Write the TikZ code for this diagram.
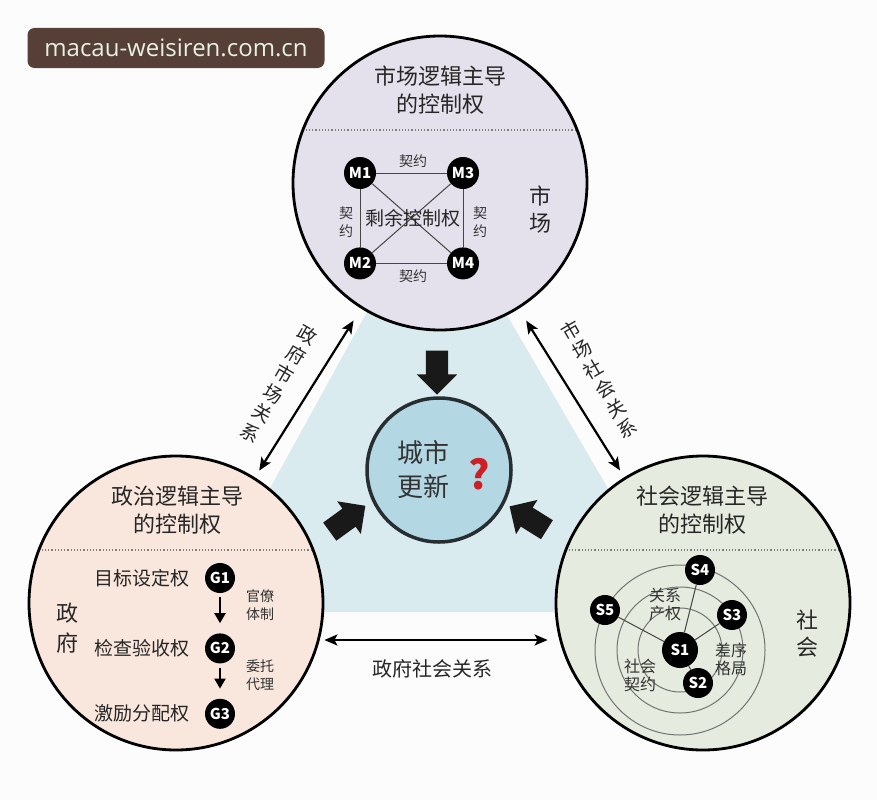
\documentclass[tikz,border=0pt]{standalone}
\usepackage{fontspec}
\setmainfont{Noto Sans CJK SC}
\newfontfamily\wmfont{Open Sans}
\usetikzlibrary{shapes.geometric, shapes.arrows, arrows.meta, positioning}
\definecolor{pagebg}{RGB}{252, 252, 252}
\definecolor{zonefill}{RGB}{217, 235, 239}
\definecolor{mktfill}{RGB}{229, 225, 236}
\definecolor{govfill}{RGB}{249, 230, 221}
\definecolor{socfill}{RGB}{229, 236, 223}
\definecolor{corefill}{RGB}{180, 215, 228}
\definecolor{coreline}{RGB}{38, 46, 50}
\definecolor{wmfill}{RGB}{86, 63, 55}
\definecolor{wmtext}{RGB}{232, 240, 226}
\definecolor{qred}{RGB}{205, 32, 38}
\definecolor{inkgray}{RGB}{70, 70, 70}
\newcommand\pxfont[2]{\fontsize{#1pt}{#2pt}\selectfont}
\tikzset{
    bigcircle/.style={circle, draw=black, line width=2.8pt, minimum size=294pt, inner sep=0pt, path picture={\draw[black!50, dotted, line width=1.2pt] ([yshift=53pt]path picture bounding box.west) -- ([yshift=53pt]path picture bounding box.east);}},
    corecircle/.style={circle, draw=coreline, fill=corefill, line width=3.5pt, minimum size=144pt, inner sep=0pt},
    headtext/.style={text=black!85, align=center, font=\pxfont{22}{28}},
    sidetext/.style={text=black!85, align=center, font=\pxfont{22}{27}},
    pointtext/.style={text=black!85, font=\pxfont{19}{22}},
    smalltext/.style={text=black!80, align=center, font=\pxfont{14}{18}},
    actor/.style={circle, fill=black, text=white, inner sep=0pt, minimum size=32pt, font=\bfseries\pxfont{15}{15}},
    link/.style={draw=inkgray, line width=1pt},
    ringline/.style={draw=black!55, line width=1pt},
    stepdown/.style={-{Triangle[length=10pt, width=11pt]}, line width=2pt, black, shorten <=4pt, shorten >=10pt},
    relation/.style={{Stealth[length=13pt, width=11pt, inset=3pt]}-{Stealth[length=13pt, width=11pt, inset=3pt]}, line width=2.2pt, black},
    rellabel/.style={text=black!85, align=center, font=\pxfont{19}{22.6}},
    blockarrow/.style={single arrow, fill=black!90, draw=none, inner xsep=0pt, inner ysep=11pt, minimum width=40pt, minimum height=44pt, single arrow head extend=9pt, single arrow head indent=0pt}
}
\begin{document}
\begin{tikzpicture}[x=1pt, y=-1pt]
\useasboundingbox (0,0) rectangle (877,800);
\fill[pagebg] (0,0) rectangle (877,800);
% shaded zone behind the three circles
\fill[zonefill] (401,250) -- (469,250) -- (680,612) -- (202,612) -- cycle;

\node[bigcircle, fill=mktfill] (mkt) at (440,183) {};
\node[bigcircle, fill=govfill] (gov) at (176,603) {};
\node[bigcircle, fill=socfill] (soc) at (703,603) {};
\node[corecircle] (core) at (439,470) {};

\node[fill=wmfill, rounded corners=7pt, minimum width=297pt, minimum height=40pt, text=wmtext, font=\wmfont\pxfont{24}{24}] (watermark) at (176,48) {macau-weisiren.com.cn};

% relations between the three logics
\draw[relation, shorten <=14pt, shorten >=8pt] (mkt) -- (gov);
\draw[relation, shorten <=14pt, shorten >=8pt] (mkt) -- (soc);
\draw[relation, shorten >=7pt] ([yshift=-37pt]gov.east) -- ([yshift=-37pt]soc.west);
\node[rellabel, rotate=-30] (gmlabel) at (279,384) {政\\府\\市\\场\\关\\系};
\node[rellabel, rotate=30] (mslabel) at (599,379) {市\\场\\社\\会\\关\\系};
\node[rellabel, font=\pxfont{20}{20}] (gslabel) at (432,669) {政府社会关系};

\node[blockarrow, rotate=-90] (frommkt) at (437,367) {};
\node[blockarrow, rotate=36] (fromgov) at (343,522) {};
\node[blockarrow, rotate=148] (fromsoc) at (533,521) {};

\node[text=black!80, align=center, font=\pxfont{26}{34}] (coretext) at (423,470) {城市\\更新};
\node[text=qred, font=\bfseries\pxfont{40}{40}] (qmark) at (479,474) {?};

% market
\node[headtext] (mkthead) at (440,90) {市场逻辑主导\\的控制权};
\node[actor] (m1) at (360,173) {M1};
\node[actor] (m3) at (463,173) {M3};
\node[actor, below=58pt of m1] (m2) {M2};
\node[actor, below=58pt of m3] (m4) {M4};
\draw[link] (m1) -- (m3) -- (m4) -- (m2) -- (m1);
\draw[link] (m1) -- (m4) (m2) -- (m3);
\node[smalltext] (ktop) at (413,161) {契约};
\node[smalltext] (kbottom) at (413,276) {契约};
\node[smalltext] (kleft) at (346,222) {契\\约};
\node[smalltext] (kright) at (480,222) {契\\约};
\node[pointtext] (residual) at (413,218) {剩余控制权};
\node[sidetext] (mktside) at (540,210) {市\\场};

% government
\node[headtext] (govhead) at (177,510) {政治逻辑主导\\的控制权};
\node[actor, minimum size=30pt] (g1) at (220,578) {G1};
\node[actor, minimum size=30pt, below=40pt of g1] (g2) {G2};
\node[actor, minimum size=30pt, below=35pt of g2] (g3) {G3};
\draw[stepdown] (g1) -- (g2);
\draw[stepdown] (g2) -- (g3);
\node[pointtext, left=12pt of g1] (goalset) {目标设定权};
\node[pointtext, left=12pt of g2] (inspect) {检查验收权};
\node[pointtext, left=12pt of g3] (reward) {激励分配权};
\node[smalltext] (bureau) at (260,605) {官僚\\体制};
\node[smalltext] (agency) at (260,675) {委托\\代理};
\node[sidetext, font=\pxfont{22}{30}] (govside) at (67,628) {政\\府};

% society
\node[headtext] (sochead) at (702,510) {社会逻辑主导\\的控制权};
\coordinate (hub) at (680,650);
\draw[ringline] (hub) circle[radius=42pt] (hub) circle[radius=63pt] (hub) circle[radius=85pt];
\node[actor, minimum size=36pt] (s1) at (hub) {S1};
\node[actor, minimum size=30pt] (s2) at (698,683) {S2};
\node[actor, minimum size=30pt] (s3) at (732,615) {S3};
\node[actor, minimum size=30pt] (s4) at (700,570) {S4};
\node[actor, minimum size=30pt] (s5) at (605,610) {S5};
\draw[link] (s1) -- (s2) (s1) -- (s3) (s1) -- (s4) (s1) -- (s5);
\node[smalltext, font=\pxfont{16}{18}] (kinship) at (665,604) {关系\\产权};
\node[smalltext, font=\pxfont{16}{18}] (order) at (731,659) {差序\\格局};
\node[smalltext, font=\pxfont{16}{18}] (compact) at (640,675) {社会\\契约};
\node[sidetext] (socside) at (807,634) {社\\会};
\end{tikzpicture}
\end{document}
